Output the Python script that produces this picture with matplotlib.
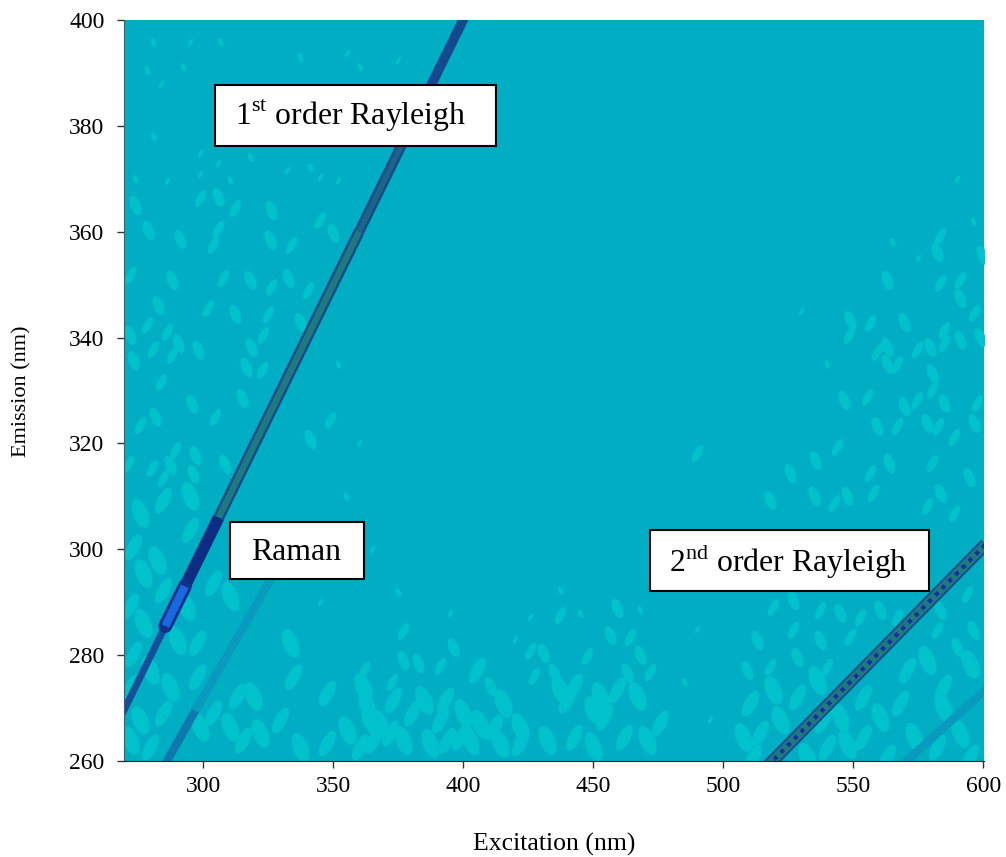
import numpy as np
import matplotlib
matplotlib.use('Agg')
import matplotlib.pyplot as plt
from matplotlib.patches import Rectangle
from matplotlib.path import Path
from matplotlib.transforms import Affine2D

plt.rcParams['font.family'] = ['Liberation Serif', 'DejaVu Serif']
plt.rcParams['mathtext.fontset'] = 'custom'
plt.rcParams['mathtext.rm'] = 'Liberation Serif'

x_ticks = [300, 350, 400, 450, 500, 550, 600]
y_ticks = [260, 280, 300, 320, 340, 360, 380, 400]

# light speckles as (excitation, emission)
blob_big = [
    (275.7, 306.8), (284.7, 309.3), (294.9, 310), (273.1, 300.5), (282.1, 298), (294.9, 303.7),
    (277, 295.5), (284.7, 292.3), (293.6, 289.2), (271.8, 289.2), (277, 286), (303.9, 293.6),
    (310.3, 291.1), (297.5, 282.2), (289.8, 282.9), (273.1, 280.3), (279.5, 277.2), (271.8, 274),
    (287.2, 274), (297.5, 275.9), (275.7, 267.8), (284.7, 269), (271.8, 264), (279.5, 262.7),
    (298.8, 266.5), (303.9, 269), (310.3, 266.5), (315.4, 264), (321.8, 265.2), (329.5, 267.8),
    (337.2, 262.7), (347.5, 263.4), (355.2, 265.9), (360.3, 262.7), (364.2, 267.8), (334.7, 275.9),
    (333.4, 282.2), (347.5, 272.8), (319.3, 272.2), (312.9, 272.2), (361.6, 274),
    (405.3, 277.2), (415.5, 271), (380.3, 269.1), (368.1, 266.9), (393.1, 271.6), (406.6, 266.9),
    (411.7, 266.5), (421.9, 266.5), (391.2, 267.8), (377, 264), (373.2, 271.6), (400.1, 269.1),
    (439.9, 271.6), (450.1, 269.7), (454, 268.4), (466.8, 272.2), (459.1, 273.5), (437.3, 273.5),
    (398.9, 264.6), (414.2, 263.4), (421.9, 263.4), (432.2, 264), (442.5, 264.6), (450.1, 262.8),
    (461.7, 264.6), (470.7, 264), (365.5, 264), (387.3, 263.4), (393.7, 264), (402.7, 264),
    (475.8, 267.2), (452.7, 272.2), (442.5, 274.1), (363, 270.3), (371.9, 265.3), (384.8, 271.6),
    (510.3, 270.9), (519.3, 273.4), (528.3, 272.1), (536, 275.3), (514.2, 265.2), (521.9, 267.7),
    (511.6, 260.8), (507.8, 264.6), (570.6, 277.2), (578.3, 279), (584.7, 274), (595, 278.4),
    (568, 270.9), (560.3, 268.3), (553.9, 264.6), (547.5, 263.3), (539.8, 262.7), (532.1, 260.8),
    (562.9, 260.8), (573.2, 264.6), (582.1, 262.7), (591.1, 265.2), (595, 260.8), (584.7, 270.2),
    (538.5, 267.7), (545, 268.3), (553.9, 272.1),
]
blob_mid = [
    (273.8, 365), (298.8, 366.3), (305.8, 366.6), (312.2, 364.4), (326.3, 364.1), (344.9, 362.2),
    (350.1, 359.7), (305.8, 360.6), (291.1, 358.7), (303.9, 357.5), (325.7, 358.4), (334, 357.5),
    (278.9, 360.3), (271.8, 351.8), (287.9, 350.8), (307.7, 351.2), (318, 350.8), (326.3, 349.6),
    (332.7, 351.2), (340.4, 349), (282.7, 346.1), (302, 345.5), (312.2, 344.5), (325, 344.5),
    (337.2, 343), (278.3, 342.3), (271.8, 340.4), (286, 341.1), (290.4, 338.9), (280.8, 337.9),
    (273.1, 335.7), (287.9, 336.7), (298.1, 337.6), (323.1, 340.4), (318.6, 338.3), (322.5, 333.8),
    (316.7, 334.5), (284, 331.6), (295.6, 327.5), (304.5, 325), (314.8, 328.5), (275.7, 323.4),
    (281.5, 325), (289.2, 318.7), (296.8, 317.8), (280.2, 315.3), (287.2, 315.9), (271.2, 316.2),
    (308.4, 316.2), (284.7, 313.4), (296.2, 314.3), (348.8, 324.4), (341.1, 320.9),
    (377, 284.5), (396.3, 281.6), (361.7, 277.2), (377, 279.1), (372.6, 275), (382.8, 278.5),
    (391.2, 277.9), (463, 276.6), (464.2, 283.5), (456.6, 283.9), (437.3, 287.6), (459.1, 288.9),
    (425.8, 280.7), (430.9, 280.4), (447.6, 279.8), (468.1, 280.1), (471.9, 276.9), (434.8, 276.6),
    (427.1, 276), (410.4, 274.1), (519.3, 289.1), (527, 290.4), (537.3, 288.5), (545, 287.9),
    (552.7, 287.2), (512.9, 282.8), (527, 284.7), (537.3, 282.8), (548.8, 283.4), (509.1, 277.2),
    (518, 277.8), (528.3, 279.7), (539.8, 277.8), (560.3, 288.5), (566.8, 287.2), (583.4, 288.5),
    (593.7, 291.6), (596.2, 284.7), (582.1, 284.7), (589.8, 281.6),
    (583.5, 359.1), (582.2, 356.2), (591.2, 350.9), (563, 350.9), (583.5, 350.3), (591.2, 347.4),
    (596.3, 344.6), (548.9, 343.3), (556.6, 342.7), (569.4, 343), (584.8, 341.4), (591.2, 339.6),
    (548.2, 340.5), (563, 338.3), (559.1, 337.3), (579.6, 338.3), (584.8, 338.9), (598.9, 340.2),
    (574.5, 337.7), (563, 335.1), (566.8, 335.1), (580.3, 333.3), (580.3, 330.1), (546.3, 328.2),
    (555.3, 328.8), (569.4, 327), (574.5, 328.2), (584.8, 327.6), (597.6, 327.6), (559.1, 323.2),
    (566.8, 323.2), (578.4, 323.8), (582.8, 323.2), (596.3, 323.8), (588.6, 321.3), (525.8, 314.4),
    (543.7, 319.4), (535.4, 316.9), (556.6, 314.4), (563.6, 316.3), (580.3, 316.3), (594.4, 313.7),
    (557.8, 310.6), (534.8, 310), (542.5, 308.7), (547.6, 310), (578.4, 308.1), (583.5, 310.6),
    (588.6, 306.8), (518.1, 309.3), (489.9, 318.1), (599.5, 355.6),
]
blob_small = [
    (280.8, 395.9), (284, 388), (278.3, 390.6), (294.9, 395.9), (306.5, 395.9), (298.8, 374.8),
    (318, 374.2), (286, 369.5), (273.8, 370), (298.8, 370.9), (310.3, 369.8), (305.8, 372.9),
    (280.8, 378), (332.1, 371.7), (337.2, 393.1), (355.2, 393.7), (360.3, 391.2), (375, 392.5),
    (292.4, 391.2), (344.9, 370.4), (341.1, 372.3), (352, 369.8),
    (437.3, 292.4), (425.8, 287.3), (468.1, 288.6), (420, 283), (445, 288), (590, 370),
    (596, 362), (575, 355), (565, 358), (530, 345), (540, 335), (360, 320), (352, 335),
    (365, 300), (355, 310), (345, 290), (375, 292), (395, 288), (500, 300), (490, 285),
    (485, 275), (495, 268),
]

# ridge segments: excitation start/end, emission start/end
ray1_low_ex, ray1_low_em = [269, 286], [269, 286]
ray1_blue_ex, ray1_blue_em = [285.5, 293], [285.5, 293]
ray1_navy_ex, ray1_navy_em = [293, 306], [293, 306]
ray1_mid_ex, ray1_mid_em = [306, 360], [306, 360]
ray1_dim_ex, ray1_dim_em = [360, 380], [360, 380]
ray1_top_ex, ray1_top_em = [380, 401], [380, 401]
ram1_low_ex, ram1_low_em = [285, 297], [259, 269.5]
ram1_up_ex, ram1_up_em = [297, 328], [269.5, 296]
ray2_ex, ray2_em = [517, 601], [259, 301]
ram2_ex, ram2_em = [566, 601], [258, 273.5]

# tall thin blobs, leaning either way so the speckle is not so regular
lean_left = Path.unit_circle().transformed(Affine2D().scale(0.5, 1.0).rotate_deg(22))
lean_right = Path.unit_circle().transformed(Affine2D().scale(0.42, 1.0).rotate_deg(-28))

fig = plt.figure(figsize=(10.06, 8.57), dpi=100)
ax = fig.add_axes([124 / 1006, 96 / 857, 860 / 1006, 741 / 857])
ax.set_facecolor('#00aec4')
for blobs, size in [(blob_big, 460), (blob_mid, 200), (blob_small, 42)]:
    xs, ys = np.array(blobs).T
    ax.scatter(xs[::2], ys[::2], s=size, marker=lean_left, color='#00c2cd', linewidths=0)
    ax.scatter(xs[1::2], ys[1::2], s=size * 0.8, marker=lean_right, color='#00c2cd', linewidths=0)

# px widths * 0.72 = points
ax.plot(ram1_low_ex, ram1_low_em, color='#0e78ad', lw=6, solid_capstyle='butt')
ax.plot(ram1_up_ex, ram1_up_em, color='#0a9abd', lw=6, solid_capstyle='butt')
ax.plot(ram2_ex, ram2_em, color='#0a9abd', lw=6, solid_capstyle='butt')

ax.plot(ray1_low_ex, ray1_low_em, color='#154f98', lw=5, solid_capstyle='butt')
ax.plot(ray1_mid_ex, ray1_mid_em, color='#174a8c', lw=8, solid_capstyle='butt')
ax.plot(ray1_mid_ex, ray1_mid_em, color='#1f7a7f', lw=4.6, solid_capstyle='butt')
ax.plot(ray1_dim_ex, ray1_dim_em, color='#174a8c', lw=7.5, solid_capstyle='butt')
ax.plot(ray1_dim_ex, ray1_dim_em, color='#1c6585', lw=4, solid_capstyle='butt')
ax.plot(ray1_top_ex, ray1_top_em, color='#14498f', lw=7, solid_capstyle='butt')
ax.plot(ray1_navy_ex, ray1_navy_em, color='#0d2c82', lw=8.5, solid_capstyle='butt')
ax.plot(ray1_blue_ex, ray1_blue_em, color='#10308a', lw=10, solid_capstyle='round')
ax.plot(ray1_blue_ex, ray1_blue_em, color='#1a68e0', lw=6, solid_capstyle='butt')

ax.plot(ray2_ex, ray2_em, color='#174a8c', lw=9, solid_capstyle='butt')
ax.plot(ray2_ex, ray2_em, color='#1f7a7f', lw=6.4, solid_capstyle='butt')
ax.plot(ray2_ex, ray2_em, color='#1530a0', lw=3, linestyle=(0, (1, 1.3)))

ax.set_xlim(269.6, 600.3)
ax.set_ylim(260, 400)
ax.set_xticks(x_ticks)
ax.set_yticks(y_ticks)
ax.tick_params(axis='both', labelsize=17, direction='out', length=5, width=1, color='#333333')
ax.tick_params(axis='x', pad=6)
ax.tick_params(axis='y', pad=9)
for side in ['top', 'right']:
    ax.spines[side].set_visible(False)
ax.spines['left'].set_color('#555555')
ax.spines['bottom'].set_color('#222222')

fig.text(554.5 / 1006, 1 - 844 / 857, 'Excitation (nm)', ha='center', va='center', fontsize=18.5)
fig.text(22 / 1006, 1 - 391 / 857, 'Emission (nm)', rotation=90, ha='center', va='center', fontsize=16)

boxes = [
    (215, 85, 496, 146, '1$^{\\mathrm{st}}$ order Rayleigh', 351, 116),
    (230, 522, 364, 579, 'Raman', 296, 553),
    (650, 530, 929, 591, '2$^{\\mathrm{nd}}$ order Rayleigh', 788, 561),
]
for x0, y0, x1, y1, label, tx, ty in boxes:
    fig.add_artist(Rectangle((x0 / 1006, 1 - y1 / 857), (x1 - x0) / 1006, (y1 - y0) / 857,
                             transform=fig.transFigure, facecolor='white', edgecolor='black', linewidth=1.5))
    fig.text(tx / 1006, 1 - ty / 857, label, ha='center', va='center', fontsize=22.9, zorder=5)

fig.savefig('out.png', dpi=100)
